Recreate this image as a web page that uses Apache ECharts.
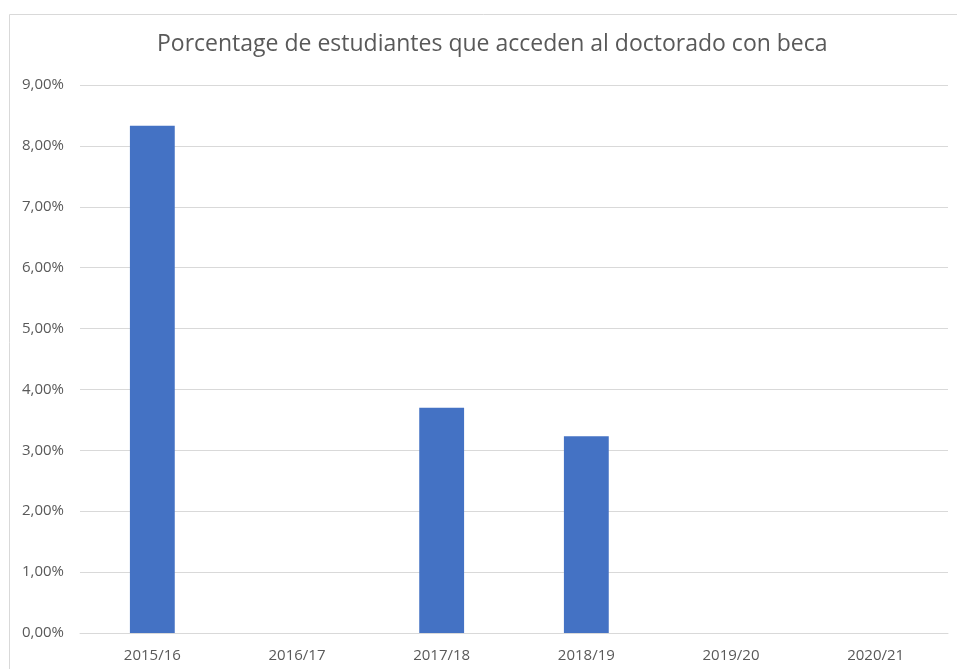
<!DOCTYPE html>
<html>
<head>
<meta charset="utf-8">
<script src="https://cdn.jsdelivr.net/npm/echarts@6/dist/echarts.min.js"></script>
<style>
  html, body { margin: 0; padding: 0; background: #fff; }
  #chart { width: 957px; height: 669px; }
</style>
</head>
<body>
<div id="chart"></div>
<script>
const categories = ['2015/16', '2016/17', '2017/18', '2018/19', '2019/20', '2020/21'];
const values = [8.33, 0, 3.70, 3.23, 0, 0];

const chart = echarts.init(document.getElementById('chart'));

const font = '"Open Sans", "Noto Sans", sans-serif';

const option = {
  animation: false,
  title: {
    text: 'Porcentage de estudiantes que acceden al doctorado con beca',
    left: 152,
    top: 28,
    textStyle: { fontFamily: font, fontSize: 23, fontWeight: 'normal', color: '#595959' },
  },
  graphic: [
    {
      type: 'rect',
      shape: { x: 9.5, y: 14.5, width: 960, height: 700 },
      style: { fill: 'none', stroke: '#d9d9d9', lineWidth: 1 },
      silent: true,
    },
  ],
  grid: { left: 80, right: 9, top: 85, bottom: 36 },
  xAxis: {
    type: 'category',
    data: categories,
    axisLine: { lineStyle: { color: '#d9d9d9' } },
    axisTick: { show: false },
    axisLabel: { fontFamily: font, fontSize: 15, color: '#595959', margin: 15 },
  },
  yAxis: {
    type: 'value',
    min: 0,
    max: 9,
    interval: 1,
    axisLine: { show: false },
    axisTick: { show: false },
    splitLine: { lineStyle: { color: '#d9d9d9' } },
    axisLabel: {
      fontFamily: font,
      fontSize: 15,
      color: '#595959',
      margin: 16,
      formatter: (v) => v.toFixed(2).replace('.', ',') + '%',
    },
  },
  series: [
    {
      type: 'bar',
      data: values,
      barWidth: '31%',
      itemStyle: { color: '#4472c4' },
    },
  ],
};

chart.setOption(option);
</script>
</body>
</html>
